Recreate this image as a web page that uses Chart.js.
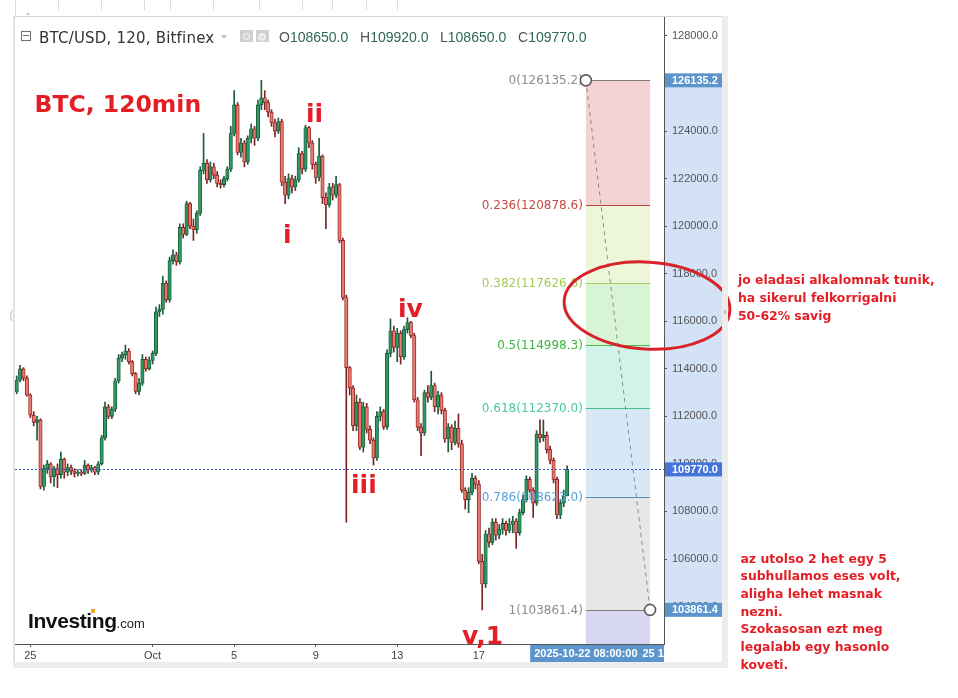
<!DOCTYPE html>
<html>
<head>
<meta charset="utf-8">
<title>BTC/USD, 120, Bitfinex</title>
<script src="https://cdn.jsdelivr.net/npm/chart.js@4.4.1/dist/chart.umd.min.js"></script>
<style>
  html, body { margin:0; padding:0; background:#fff; }
  #stage { position:relative; width:958px; height:698px; overflow:hidden; background:#fff; }
  #chart { position:absolute; left:0; top:0; }
  .t { position:absolute; white-space:nowrap; line-height:1; }
  .red { color:#e31e25; font-family:"DejaVu Sans", sans-serif; font-weight:bold; }
  .wave { font-size:25px; }
  .note { font-size:12.4px; line-height:17.7px; }
  .frame { position:absolute; }
</style>
</head>
<body>
<div id="stage">
  <canvas id="chart" width="958" height="698"></canvas>

  <!-- widget frame -->
  <div class="frame" style="left:14px;top:16px;width:714px;height:1px;background:#d4d4d4"></div>
  <div class="frame" style="left:13px;top:16px;width:2px;height:652px;background:#e2e2e2"></div>
  <div class="frame" style="left:722px;top:16px;width:6px;height:652px;background:#ededed"></div>
  <div class="frame" style="left:13px;top:662px;width:715px;height:6px;background:#ededed"></div>
  <div class="frame" style="left:15px;top:0;width:1px;height:16px;background:#dcdcdc"></div>
  <div class="frame" style="left:58px;top:0;width:1px;height:10px;background:#dcdcdc"></div>
  <div class="frame" style="left:101px;top:0;width:1px;height:10px;background:#dcdcdc"></div>
  <div class="frame" style="left:144px;top:0;width:1px;height:10px;background:#dcdcdc"></div>
  <div class="frame" style="left:170px;top:0;width:1px;height:10px;background:#dcdcdc"></div>
  <div class="frame" style="left:213px;top:0;width:1px;height:10px;background:#dcdcdc"></div>
  <div class="frame" style="left:259px;top:0;width:1px;height:10px;background:#dcdcdc"></div>
  <div class="frame" style="left:302px;top:0;width:1px;height:10px;background:#dcdcdc"></div>
  <div class="frame" style="left:332px;top:0;width:1px;height:10px;background:#dcdcdc"></div>
  <div class="frame" style="left:366px;top:0;width:1px;height:10px;background:#dcdcdc"></div>
  <div class="frame" style="left:397px;top:0;width:1px;height:10px;background:#dcdcdc"></div>
  <div class="frame" style="left:26px;top:12px;width:0;height:0;border-left:2.5px solid transparent;border-right:2.5px solid transparent;border-bottom:3px solid #c8c8c8"></div>
  <div class="t" style="left:9px;top:309px;font:12px 'DejaVu Sans';color:#c4c4c4">(</div>
  <div class="frame" style="left:724px;top:309px;width:0;height:0;border-top:3px solid transparent;border-bottom:3px solid transparent;border-left:3px solid #bdbdbd"></div>

  <!-- header -->
  <div class="frame" style="left:21px;top:31px;width:8px;height:8px;border:1px solid #707070"></div>
  <div class="frame" style="left:23px;top:35px;width:6px;height:1px;background:#707070"></div>
  <div class="t" style="left:39px;top:28.6px;font:15px 'DejaVu Sans';color:#333;letter-spacing:0.2px">BTC/USD, 120, Bitfinex</div>
  <div class="frame" style="left:221px;top:35px;width:0;height:0;border-left:3.5px solid transparent;border-right:3.5px solid transparent;border-top:4px solid #c4c4c4"></div>
  <div class="frame" style="left:240px;top:30px;width:13px;height:12px;background:#d0d0d0"></div>
  <div class="frame" style="left:243px;top:32.5px;width:5px;height:5px;border:1.5px solid #fff;border-radius:50%"></div>
  <div class="frame" style="left:256px;top:30px;width:13px;height:12px;background:#d0d0d0"></div>
  <div class="t" style="left:257px;top:30.5px;font:11px 'DejaVu Sans';color:#fff">⚙</div>
  <div class="t" id="ohlcO" style="left:279px;top:29.2px;font:14px 'Liberation Sans'"></div>
  <div class="t" id="ohlcH" style="left:360px;top:29.2px;font:14px 'Liberation Sans'"></div>
  <div class="t" id="ohlcL" style="left:440px;top:29.2px;font:14px 'Liberation Sans'"></div>
  <div class="t" id="ohlcC" style="left:518px;top:29.2px;font:14px 'Liberation Sans'"></div>

  <!-- annotations -->
  <div class="t red" style="left:34.5px;top:93.4px;font-size:23.5px">BTC, 120min</div>
  <div class="t red wave" style="left:306px;top:101px">ii</div>
  <div class="t red wave" style="left:283px;top:222px">i</div>
  <div class="t red wave" style="left:351px;top:472px">iii</div>
  <div class="t red wave" style="left:398px;top:296px">iv</div>
  <div class="t red wave" style="left:462px;top:623px">v,1</div>

  <div class="t red note" style="left:738px;top:271.2px">jo eladasi alkalomnak tunik,<br>ha sikerul felkorrigalni<br>50-62% savig</div>
  <div class="t red note" style="left:740.5px;top:549.6px">az utolso 2 het egy 5<br>subhullamos eses volt,<br>aligha lehet masnak<br>nezni.<br>Szokasosan ezt meg<br>legalabb egy hasonlo<br>koveti.</div>

  <!-- logo -->
  <div class="t" style="left:28px;top:609px;font:bold 21px 'Liberation Sans';color:#111;letter-spacing:-0.4px">Investing<span style="font:13px 'Liberation Sans';letter-spacing:0;color:#222">.com</span></div>
  <div class="frame" style="left:90.5px;top:609px;width:4px;height:4px;background:#f5a623"></div>
</div>

<script>
// ---------------- data ----------------
const totalSlots = 191;                       // 4-hour slots on the time axis (incl. empty future)
const dayTickSlots = [4, 40, 64, 88, 112, 136];
const dayTickText = ['25', 'Oct', '5', '9', '13', '17'];
const yTicks = [104000, 106000, 108000, 110000, 112000, 114000, 116000, 118000, 120000, 122000, 124000, 126000, 128000];
const yRange = [102425, 128841];

const opens = [
113025,113530,114000,113620,112900,112050,111750,111850,109050,109800,
110000,109450,109800,109550,110200,109650,109850,109700,109600,109650,
109600,109950,109750,109850,109650,110000,111100,112400,112000,112300,
113500,114450,114600,114750,114300,113800,113050,113400,114400,114000,
114350,114650,116400,116500,117600,116900,118550,118800,118500,119950,
119650,120950,120000,119850,120550,122350,122650,121950,122500,122150,
121800,121750,122000,122400,123900,125100,123100,123500,122700,123700,
124100,123700,125100,125400,125200,124800,124350,124000,124400,121850,
121300,122000,121650,121950,123050,122400,124150,123500,122600,122050,
122950,121200,120900,121650,121300,121750,119400,117000,114050,113200,
111600,112600,110700,112400,111450,111000,110250,112000,112200,111550,
114650,115600,114900,115500,114500,115650,115950,115400,112700,111550,
111300,113000,112800,113300,112400,112900,112250,111050,111550,110900,
111500,110850,108900,108500,108800,109400,109150,105900,104950,107050,
106700,107550,107000,107250,107500,107200,107450,107600,107100,107950,
108500,109350,108900,108350,111250,111100,111200,110600,110150,109350,
107850,108350,108650];
const highs = [
113700,114150,114050,113700,112950,112200,112000,111900,109950,110150,
110050,109900,110000,110500,110250,110000,109950,109800,109750,109750,
110150,110000,109950,109900,110100,111200,112600,112500,112400,113600,
114600,114700,115000,114850,114350,113850,113600,114600,114500,114500,
114750,116600,116700,117900,117700,118700,119000,118900,120100,120100,
121050,121000,120300,120650,122500,123900,122800,122700,122650,122300,
121950,122100,122500,124200,125700,125200,123700,123600,123800,124300,
124200,125300,126135,125700,125300,124900,124500,124550,124500,122100,
122200,122150,122100,123300,123150,124250,124200,123600,122700,123700,
123000,121400,121800,121800,122100,121800,119500,117100,114100,113300,
112900,112750,112600,112550,111600,111100,112200,112400,112300,114800,
116100,115800,115700,115600,115800,116150,116000,115500,112800,111700,
113100,113300,113900,113400,113050,113000,112350,111700,111650,111800,
112100,111000,109000,109000,109600,109500,109300,106200,107200,107300,
107700,107700,107450,107700,107600,107700,107800,107700,108100,108700,
109500,109450,109000,111400,111850,111850,111350,110750,110250,109450,
108500,108900,109920];
const lows = [
112950,113450,113500,112850,111950,111600,111000,108950,108900,109600,
109200,109050,109000,109400,109400,109500,109550,109450,109500,109500,
109550,109600,109650,109550,109550,109950,111000,111900,111900,112200,
113400,114300,114400,114200,113700,112950,112900,113300,113900,113950,
114200,114550,116200,116300,116800,116800,118400,118350,118400,119500,
119600,119900,119400,119700,120450,122200,121800,121850,122000,121650,
121600,121650,121900,122300,123800,123000,122900,122500,122600,123500,
123400,123600,124900,124900,124600,124200,123750,123900,121700,120950,
121150,121400,121500,121850,122200,122300,123300,122400,121800,121900,
120950,119900,120800,121100,121200,119300,116900,107550,112900,111400,
111400,110600,110500,111300,110850,109950,110150,111800,111450,111450,
114500,114700,114300,114200,114400,115500,115300,112600,111400,110350,
111200,112600,112700,112200,112100,112100,110900,110500,110600,110800,
110700,108800,108100,107950,108700,108950,105800,103861,104800,106500,
106600,106800,106850,107050,107000,107100,107100,106450,107000,107850,
108400,108800,107750,108250,110900,110950,110450,110000,109200,107700,
107700,108200,108650];
const closes = [
113530,114000,113620,112900,112050,111750,111850,109050,109800,110000,
109450,109800,109550,110200,109650,109850,109700,109600,109650,109600,
109950,109750,109850,109650,110000,111100,112400,112000,112300,113500,
114450,114600,114750,114300,113800,113050,113400,114400,114000,114350,
114650,116400,116500,117600,116900,118550,118800,118500,119950,119650,
120950,120000,119850,120550,122350,122650,121950,122500,122150,121800,
121750,122000,122400,123900,125100,123100,123500,122700,123700,124100,
123700,125100,125400,125200,124800,124350,124000,124400,121850,121300,
122000,121650,121950,123050,122400,124150,123500,122600,122050,122950,
121200,120900,121650,121300,121750,119400,117000,114050,113200,111600,
112600,110700,112400,111450,111000,110250,112000,112200,111550,114650,
115600,114900,115500,114500,115650,115950,115400,112700,111550,111300,
113000,112800,113300,112400,112900,112250,111050,111550,110900,111500,
110850,108900,108500,108800,109400,109150,105900,104950,107050,106700,
107550,107000,107250,107500,107200,107450,107600,107100,107950,108500,
109350,108900,108350,111250,111100,111200,110600,110150,109350,107850,
108350,108650,109770];

const lastPrice = 109770;
const fibRatios = ['0', '0.236', '0.382', '0.5', '0.618', '0.786', '1'];
const fibPrices = [126135.2, 120878.6, 117626.6, 114998.3, 112370.0, 108623.0, 103861.4];
const fibSlots = [167.5, 186.4];
const dateLabels = ['2025-10-22 08:00:00', '2025-10-25 12:00:00'];
const ellipseAnchor = { slot: 185.5, price: 116660 };

// ---------------- styles ----------------
const bandColors = ['#f5d3d3', '#eef6da', '#d7f5d5', '#d2f4e8', '#d7e8f6', '#e7e7e7'];
const belowBand = '#d7d7f3';
const fibLineColors = ['#7c7c7c', '#b5443c', '#a7cc5c', '#4cbb4c', '#3fc190', '#4a8fc8', '#7c7c7c'];
const fibTextColors = ['#8c8c8c', '#c64a44', '#a4c955', '#3fb63f', '#4cc8a0', '#5aa2d8', '#8c8c8c'];

// ---------------- header from data ----------------
const li = closes.length - 1;
const hdr = (id, k, v) => {
  document.getElementById(id).innerHTML =
    '<span style="color:#555">' + k + '</span><span style="color:#2d6a4f">' + v.toFixed(1) + '</span>';
};
hdr('ohlcO', 'O', opens[li]);
hdr('ohlcH', 'H', highs[li]);
hdr('ohlcL', 'L', lows[li]);
hdr('ohlcC', 'C', closes[li]);

// ---------------- chart ----------------
const slotLabels = Array.from({ length: totalSlots }, () => '');
dayTickSlots.forEach((s, i) => { slotLabels[s] = dayTickText[i]; });

const isUp = closes.map((c, i) => c >= opens[i]);
const bodyFill = isUp.map(u => u ? '#2f9a66' : '#e8796e');
const bodyLine = isUp.map(u => u ? '#175a39' : '#8e2020');
const wickCol = isUp.map(u => u ? '#1d5a3a' : '#7d2222');

Chart.defaults.font.family = '"Liberation Sans", Arial, sans-serif';

const overlay = {
  id: 'overlay',
  beforeDraw(chart) {
    const { ctx, chartArea: a, scales: { x, y } } = chart;
    ctx.save();
    const yTop = y.getPixelForValue(fibPrices[0]);
    const yBot = y.getPixelForValue(fibPrices[fibPrices.length - 1]);
    ctx.fillStyle = '#d4e2f6';
    ctx.fillRect(a.right + 1, yTop, 57, yBot - yTop);
    const x0 = x.getPixelForValue(fibSlots[0]);
    const x1 = x.getPixelForValue(fibSlots[1]);
    for (let i = 0; i < fibPrices.length - 1; i++) {
      const p0 = y.getPixelForValue(fibPrices[i]);
      const p1 = y.getPixelForValue(fibPrices[i + 1]);
      ctx.fillStyle = bandColors[i];
      ctx.fillRect(x0, p0, x1 - x0, p1 - p0);
    }
    ctx.fillStyle = belowBand;
    ctx.fillRect(x0, yBot, x1 - x0, a.bottom - yBot);
    ctx.restore();
  },
  afterDatasetsDraw(chart) {
    const { ctx, chartArea: a, scales: { x, y } } = chart;
    ctx.save();
    const x0 = x.getPixelForValue(fibSlots[0]);
    const x1 = x.getPixelForValue(fibSlots[1]);
    const yTop = y.getPixelForValue(fibPrices[0]);
    const yBot = y.getPixelForValue(fibPrices[fibPrices.length - 1]);
    // last price dotted line
    const yl = Math.round(y.getPixelForValue(lastPrice)) + 0.5;
    ctx.lineWidth = 1;
    ctx.strokeStyle = '#3559c4';
    ctx.setLineDash([2, 2]);
    ctx.beginPath(); ctx.moveTo(a.left, yl); ctx.lineTo(a.right, yl); ctx.stroke();
    ctx.setLineDash([]);
    // fib levels
    ctx.font = '12px "DejaVu Sans"';
    ctx.textAlign = 'right';
    ctx.textBaseline = 'middle';
    fibPrices.forEach((p, i) => {
      const yy = Math.round(y.getPixelForValue(p)) + 0.5;
      ctx.strokeStyle = fibLineColors[i];
      ctx.beginPath(); ctx.moveTo(x0, yy); ctx.lineTo(x1, yy); ctx.stroke();
      ctx.fillStyle = fibTextColors[i];
      ctx.fillText(fibRatios[i] + '(' + p.toFixed(1) + ')', x0 - 3, yy);
    });
    // trend line of the tool
    ctx.strokeStyle = '#8a8a8a';
    ctx.setLineDash([4, 4]);
    ctx.beginPath(); ctx.moveTo(x0, yTop); ctx.lineTo(x1, yBot); ctx.stroke();
    ctx.setLineDash([]);
    [[x0, yTop], [x1, yBot]].forEach(([cx, cy]) => {
      ctx.beginPath(); ctx.arc(cx, cy, 5.5, 0, Math.PI * 2);
      ctx.fillStyle = '#fff'; ctx.fill();
      ctx.lineWidth = 1.6; ctx.strokeStyle = '#5a5a5a'; ctx.stroke();
    });
    ctx.restore();
  },
  afterDraw(chart) {
    const { ctx, chartArea: a, scales: { x, y } } = chart;
    ctx.save();
    // price-axis labels
    const boxes = [[fibPrices[0], '#5b95cb'], [lastPrice, '#4474d8'], [fibPrices[fibPrices.length - 1], '#5b95cb']];
    ctx.font = 'bold 11px "Liberation Sans"';
    ctx.textAlign = 'left';
    ctx.textBaseline = 'middle';
    boxes.forEach(([p, col]) => {
      const yy = y.getPixelForValue(p);
      ctx.fillStyle = col;
      ctx.fillRect(a.right + 1, yy - 7, 57, 14);
      ctx.fillStyle = '#fff';
      ctx.fillText(p.toFixed(1), a.right + 8, yy + 0.5);
    });
    // time-axis labels of the tool
    ctx.save();
    ctx.beginPath(); ctx.rect(0, a.bottom, a.right, 20); ctx.clip();
    const drawDate = (cx, txt) => {
      const w = ctx.measureText(txt).width + 8;
      ctx.fillStyle = '#5b95cb';
      ctx.fillRect(cx - w / 2, a.bottom + 1, w, 17);
      ctx.fillStyle = '#fff';
      ctx.textAlign = 'center';
      ctx.fillText(txt, cx, a.bottom + 10);
    };
    drawDate(x.getPixelForValue(fibSlots[1]), dateLabels[1]);
    drawDate(x.getPixelForValue(fibSlots[0]), dateLabels[0]);
    ctx.restore();
    // ellipse
    const ex = x.getPixelForValue(ellipseAnchor.slot);
    const ey = y.getPixelForValue(ellipseAnchor.price);
    ctx.beginPath();
    ctx.ellipse(ex, ey, 83, 43.5, 0.06, 0, Math.PI * 2);
    ctx.strokeStyle = '#d8232a';
    ctx.lineWidth = 3;
    ctx.stroke();
    ctx.restore();
  }
};

new Chart(document.getElementById('chart'), {
  type: 'bar',
  data: {
    labels: slotLabels,
    datasets: [
      {
        label: 'wick',
        data: lows.map((l, i) => [l, highs[i]]),
        backgroundColor: wickCol,
        barThickness: 1,
        grouped: false,
        order: 2
      },
      {
        label: 'body',
        data: opens.map((o, i) => [o, closes[i]]),
        backgroundColor: bodyFill,
        borderColor: bodyLine,
        borderWidth: 0.9,
        borderSkipped: false,
        barPercentage: 1,
        categoryPercentage: 1,
        grouped: false,
        order: 1
      }
    ]
  },
  options: {
    responsive: false,
    animation: false,
    events: [],
    layout: { padding: { left: 15, top: 16, right: 236, bottom: 36 } },
    plugins: { legend: { display: false }, tooltip: { enabled: false } },
    scales: {
      x: {
        type: 'category',
        offset: true,
        grid: { display: true, drawOnChartArea: false, drawTicks: true, tickLength: 3, color: '#555', offset: false },
        border: { display: true, color: '#555' },
        ticks: { autoSkip: false, maxRotation: 0, minRotation: 0, padding: 2, color: '#444', font: { size: 11 } },
        afterBuildTicks: s => { s.ticks = s.ticks.filter(t => slotLabels[t.value] !== ''); },
        afterFit: s => { s.height = 18; }
      },
      y: {
        position: 'right',
        min: yRange[0],
        max: yRange[1],
        beginAtZero: false,
        afterBuildTicks: s => { s.ticks = yTicks.map(v => ({ value: v })); },
        ticks: { autoSkip: false, padding: 5, color: '#555', font: { size: 11 }, callback: v => Number(v).toFixed(1) },
        grid: { drawOnChartArea: false, drawTicks: true, tickLength: 3, color: '#555' },
        border: { display: true, color: '#555' },
        afterFit: s => { s.width = 58; }
      }
    }
  },
  plugins: [overlay]
});
</script>
</body>
</html>
